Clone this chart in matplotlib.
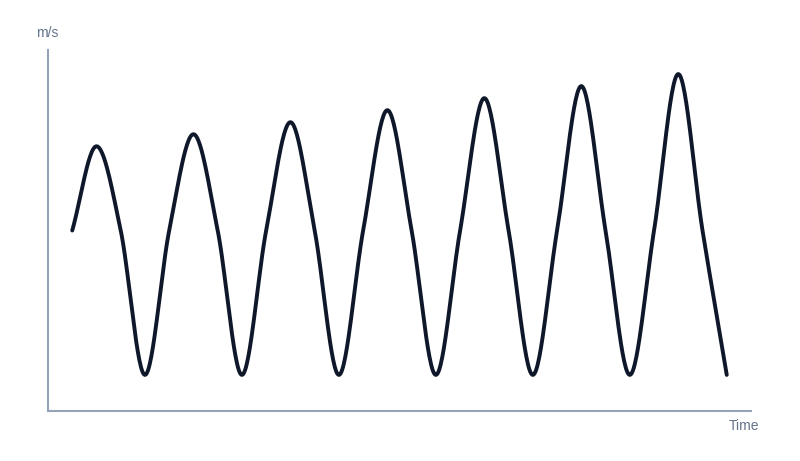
import numpy as np
import matplotlib
matplotlib.use("Agg")
import matplotlib.pyplot as plt

# sample index and speed values (m/s)
steps = list(range(28))
speed = [0.0, 0.7, 0.0, -1.2,
         0.0, 0.8, 0.0, -1.2,
         0.0, 0.9, 0.0, -1.2,
         0.0, 1.0, 0.0, -1.2,
         0.0, 1.1, 0.0, -1.2,
         0.0, 1.2, 0.0, -1.2,
         0.0, 1.3, 0.0, -1.2]

LINE = "#0f172a"
AXIS = "#94a3b8"
TEXT = "#64748b"


def monotone(x, y, n=30):
    """monotone cubic interpolation (Fritsch-Carlson), sampled for plotting"""
    x = np.asarray(x, float)
    y = np.asarray(y, float)
    h = np.diff(x)
    d = np.diff(y) / h
    m = np.zeros_like(y)
    m[0], m[-1] = d[0], d[-1]
    for i in range(1, len(x) - 1):
        if d[i - 1] * d[i] > 0:
            m[i] = (d[i - 1] + d[i]) / 2
    for i in range(len(d)):
        if d[i] == 0:
            m[i] = m[i + 1] = 0
            continue
        a, b = m[i] / d[i], m[i + 1] / d[i]
        tau = a * a + b * b
        if tau > 9:
            k = 3 / np.sqrt(tau)
            m[i], m[i + 1] = k * a * d[i], k * b * d[i]
    xs, ys = [], []
    for i in range(len(x) - 1):
        u = np.linspace(0, 1, n, endpoint=(i == len(x) - 2))
        h00 = 2 * u**3 - 3 * u**2 + 1
        h10 = u**3 - 2 * u**2 + u
        h01 = -2 * u**3 + 3 * u**2
        h11 = u**3 - u**2
        xs.append(x[i] + u * h[i])
        ys.append(h00 * y[i] + h10 * h[i] * m[i] + h01 * y[i + 1] + h11 * h[i] * m[i + 1])
    return np.concatenate(xs), np.concatenate(ys)


plt.rcParams["font.family"] = ["Liberation Sans", "DejaVu Sans"]

fig = plt.figure(figsize=(8, 4.61), dpi=100)
ax = fig.add_axes([48 / 800, 50 / 461, 703 / 800, 361 / 461])

sx, sy = monotone(steps, speed)
ax.plot(sx, sy, color=LINE, lw=2.8, solid_capstyle="round")

ax.set_xlim(-1, 28)
ax.set_ylim(-1.5, 1.5)
ax.set_xticks([])
ax.set_yticks([])
for side in ("top", "right"):
    ax.spines[side].set_visible(False)
for side in ("left", "bottom"):
    ax.spines[side].set_color(AXIS)
    ax.spines[side].set_linewidth(1.5)

fig.text(36 / 800, 1 - 33 / 461, "m/s", color=TEXT, fontsize=10, va="center", ha="left")
fig.text(759 / 800, 1 - 426 / 461, "Time", color=TEXT, fontsize=10, va="center", ha="right")

fig.savefig("out.png", dpi=100)
